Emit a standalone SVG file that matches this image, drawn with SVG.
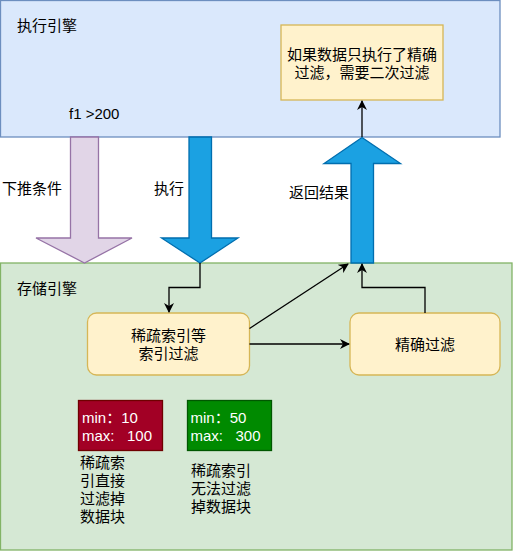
<svg xmlns="http://www.w3.org/2000/svg" width="517" height="552" viewBox="0 0 517 552">
<style>
text{font-family:"Liberation Sans","Noto Sans CJK SC",sans-serif;font-size:15px;fill:#000;white-space:pre}
.c{text-anchor:middle}
.w{fill:#fff}
.node{fill:#fff2cc;stroke:#d6b656;stroke-width:1.3}
.ln{fill:none;stroke:#000;stroke-width:1.3}
</style>
<defs>
<marker id="ah2" viewBox="0 0 10 10" refX="9" refY="5" markerWidth="10" markerHeight="10" markerUnits="userSpaceOnUse" orient="auto">
<path d="M0,0 L10,5 L0,10 L3,5 Z" fill="#000"/>
</marker>
</defs>
<g id="exec-engine">
<rect x="0.5" y="0.5" width="499.5" height="136.5" fill="#dae8fc" stroke="#6c8ebf" stroke-width="1.3"/>
<text x="17" y="31">执行引擎</text>
<text x="69" y="119">f1 &gt;200</text>
</g>
<g id="note">
<rect x="281" y="25" width="162" height="75" fill="#fff2cc" stroke="#d6b656" stroke-width="1.3"/>
<text class="c" x="362" y="60">如果数据只执行了精确</text>
<text class="c" x="362" y="78">过滤，需要二次过滤</text>
</g>
<g id="storage-engine">
<rect x="0.5" y="263" width="511.5" height="287" fill="#d5e8d4" stroke="#82b366" stroke-width="1.3"/>
<text x="17" y="294">存储引擎</text>
</g>
<g id="push-arrow">
<path d="M70.5,137 L98.5,137 L98.5,238 L132,238 L84.5,263 L36,238 L70.5,238 Z" fill="#e1d5e7" stroke="#9673a6" stroke-width="1.3"/>
<text x="2" y="194">下推条件</text>
</g>
<g id="exec-arrow">
<path d="M189,137 L211.5,137 L211.5,238 L238,238 L200,263 L161.5,238 L189,238 Z" fill="#1ba1e2" stroke="#006eaf" stroke-width="1.3"/>
<text x="154" y="194">执行</text>
</g>
<g id="return-arrow">
<path d="M351,263 L373.5,263 L373.5,163.5 L400.5,163.5 L362,137.5 L324,163.5 L351,163.5 Z" fill="#1ba1e2" stroke="#006eaf" stroke-width="1.3"/>
<text x="289" y="198">返回结果</text>
</g>
<g id="sparse-filter">
<rect class="node" x="87.5" y="313" width="162" height="62" rx="9"/>
<text class="c" x="168.5" y="341">稀疏索引等</text>
<text class="c" x="168.5" y="359">索引过滤</text>
</g>
<g id="exact-filter">
<rect class="node" x="350" y="313" width="150" height="62" rx="9"/>
<text class="c" x="425" y="350">精确过滤</text>
</g>
<g id="block-red">
<rect x="78.5" y="400.5" width="84" height="50" fill="#a20025" stroke="#6f0000" stroke-width="1.3"/>
<text class="w" x="82" y="423">min：10</text>
<text class="w" x="82" y="441">max:   100</text>
</g>
<g id="block-green">
<rect x="187.5" y="400.5" width="84" height="50" fill="#008a00" stroke="#005700" stroke-width="1.3"/>
<text class="w" x="190.5" y="423">min：50</text>
<text class="w" x="190.5" y="441">max:   300</text>
</g>
<g id="red-caption">
<text x="80" y="468">稀疏索</text>
<text x="80" y="486">引直接</text>
<text x="80" y="504">过滤掉</text>
<text x="80" y="522">数据块</text>
</g>
<g id="green-caption">
<text x="191" y="476">稀疏索引</text>
<text x="191" y="494">无法过滤</text>
<text x="191" y="512">掉数据块</text>
</g>
<g id="connectors">
<path class="ln" d="M362,137 L362,101" marker-end="url(#ah2)"/>
<path class="ln" d="M200,263 L200,287.5 L169,287.5 L169,312" marker-end="url(#ah2)"/>
<path class="ln" d="M249.5,344 L349,344" marker-end="url(#ah2)"/>
<path class="ln" d="M249.5,328.5 L348,264" marker-end="url(#ah2)"/>
<path class="ln" d="M425,313 L425,287.5 L362,287.5 L362,264" marker-end="url(#ah2)"/>
</g>
</svg>
